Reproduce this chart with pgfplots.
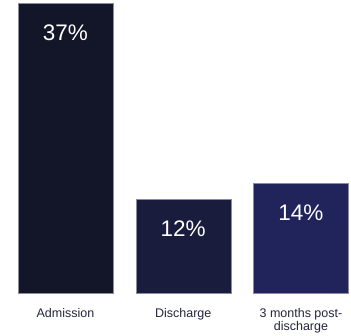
\documentclass[border=0pt]{standalone}
\usepackage{pgfplots}
\pgfplotsset{compat=1.18}
\usepackage{fontspec}
\setmainfont{Liberation Sans}
\definecolor{barA}{HTML}{131629}
\definecolor{barB}{HTML}{191C3C}
\definecolor{barC}{HTML}{20245A}
\definecolor{edgeC}{HTML}{8A8C9C}
\definecolor{catC}{HTML}{23253A}
\begin{document}
\begin{tikzpicture}
\begin{axis}[
  name=ax,
  width=351pt, height=335pt, scale only axis,
  xmin=-0.556, xmax=2.425,
  ymin=-5.357, ymax=37.383,
  ybar, bar width=95pt, bar shift=0pt,
  axis line style={draw=none},
  tick style={draw=none},
  ytick=\empty,
  xtick={0,1,2},
  xticklabels={Admission,Discharge,{3 months post-\\discharge}},
  xticklabel style={anchor=north, yshift=34pt, align=center, text=catC,
    font=\fontsize{12.5}{12.3}\selectfont},
  /pgf/number format/assume math mode=true,
  nodes near coords={\pgfmathprintnumber{\pgfplotspointmeta}\%},
  every node near coord/.append style={anchor=north, yshift=-18pt, text=white,
    font=\fontsize{22.5}{22.5}\selectfont},
  clip=false,
]
\addplot[fill=barA, draw=edgeC, line width=0.4pt] coordinates {(0,37)};
\addplot[fill=barB, draw=edgeC, line width=0.4pt] coordinates {(1,12)};
\addplot[fill=barC, draw=edgeC, line width=0.4pt] coordinates {(2,14)};
\end{axis}
\pgfresetboundingbox
\path (ax.south west) rectangle (ax.north east);
\end{tikzpicture}
\end{document}
